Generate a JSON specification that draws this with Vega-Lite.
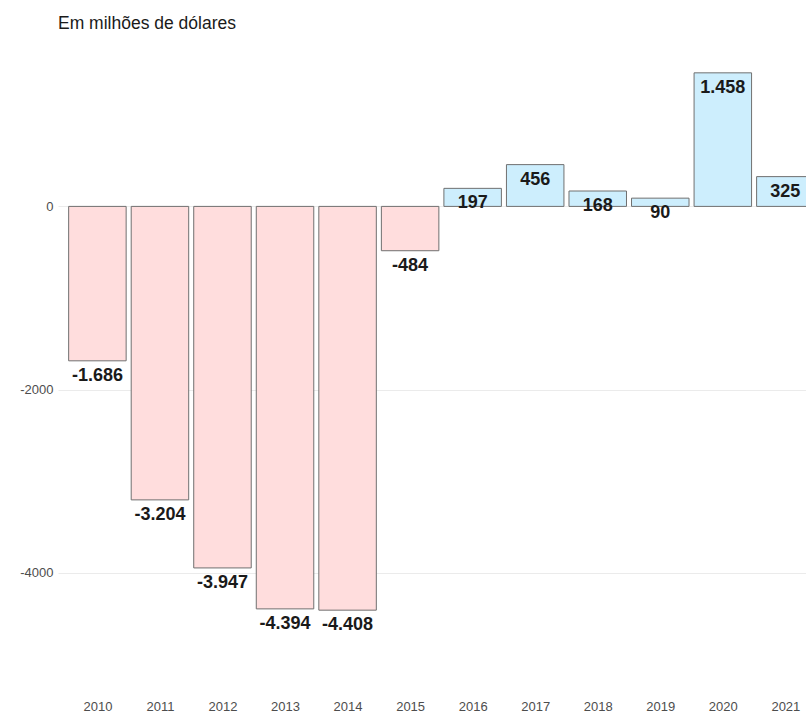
{
  "$schema": "https://vega.github.io/schema/vega-lite/v6.json",
  "width": 748,
  "height": 591,
  "autosize": {"type": "none"},
  "padding": {"left": 58, "top": 46, "right": 0, "bottom": 77},
  "background": "white",
  "title": {
    "text": "Em milhões de dólares",
    "anchor": "start",
    "frame": "group",
    "baseline": "alphabetic",
    "offset": 16,
    "dy": 16,
    "font": "Liberation Sans",
    "fontSize": 17.5,
    "fontWeight": "normal",
    "color": "#1a1a1a"
  },
  "config": {
    "locale": {
      "number": {"decimal": ",", "thousands": ".", "grouping": [3], "currency": ["R$", ""], "minus": "-"}
    },
    "view": {"stroke": null},
    "font": "Liberation Sans"
  },
  "data": {
    "values": [
      {"ano": 2010, "saldo": -1686},
      {"ano": 2011, "saldo": -3204},
      {"ano": 2012, "saldo": -3947},
      {"ano": 2013, "saldo": -4394},
      {"ano": 2014, "saldo": -4408},
      {"ano": 2015, "saldo": -484},
      {"ano": 2016, "saldo": 197},
      {"ano": 2017, "saldo": 456},
      {"ano": 2018, "saldo": 168},
      {"ano": 2019, "saldo": 90},
      {"ano": 2020, "saldo": 1458},
      {"ano": 2021, "saldo": 325}
    ]
  },
  "encoding": {
    "x": {
      "field": "ano",
      "type": "quantitative",
      "scale": {"domain": [2009.45, 2021.25], "nice": false, "zero": false},
      "axis": {
        "title": null,
        "values": [2010, 2011, 2012, 2013, 2014, 2015, 2016, 2017, 2018, 2019, 2020, 2021],
        "format": "d",
        "grid": false,
        "ticks": false,
        "domain": false,
        "labelPadding": 63,
        "labelFontSize": 13,
        "labelColor": "#4d4d4d",
        "labelFlush": false
      }
    },
    "y": {
      "field": "saldo",
      "type": "quantitative",
      "scale": {"domain": [-4701, 1751], "nice": false},
      "axis": {
        "title": null,
        "values": [-4000, -2000, 0],
        "format": "d",
        "grid": true,
        "gridColor": "#ebebeb",
        "gridWidth": 1.2,
        "ticks": false,
        "domain": false,
        "labelPadding": 5,
        "labelFontSize": 13,
        "labelColor": "#4d4d4d"
      }
    }
  },
  "layer": [
    {
      "mark": {"type": "bar", "size": 57.5, "clip": true, "stroke": "#707070", "strokeWidth": 1},
      "encoding": {
        "y2": {"datum": 0},
        "fill": {
          "condition": {"test": "datum.saldo < 0", "value": "#ffdddd"},
          "value": "#cdeefd"
        }
      }
    },
    {
      "mark": {"type": "text", "dy": 15, "baseline": "middle", "align": "center", "fontSize": 18, "fontWeight": "bold", "color": "#1a1a1a"},
      "encoding": {
        "text": {"field": "saldo", "type": "quantitative", "format": ",d"}
      }
    }
  ]
}
